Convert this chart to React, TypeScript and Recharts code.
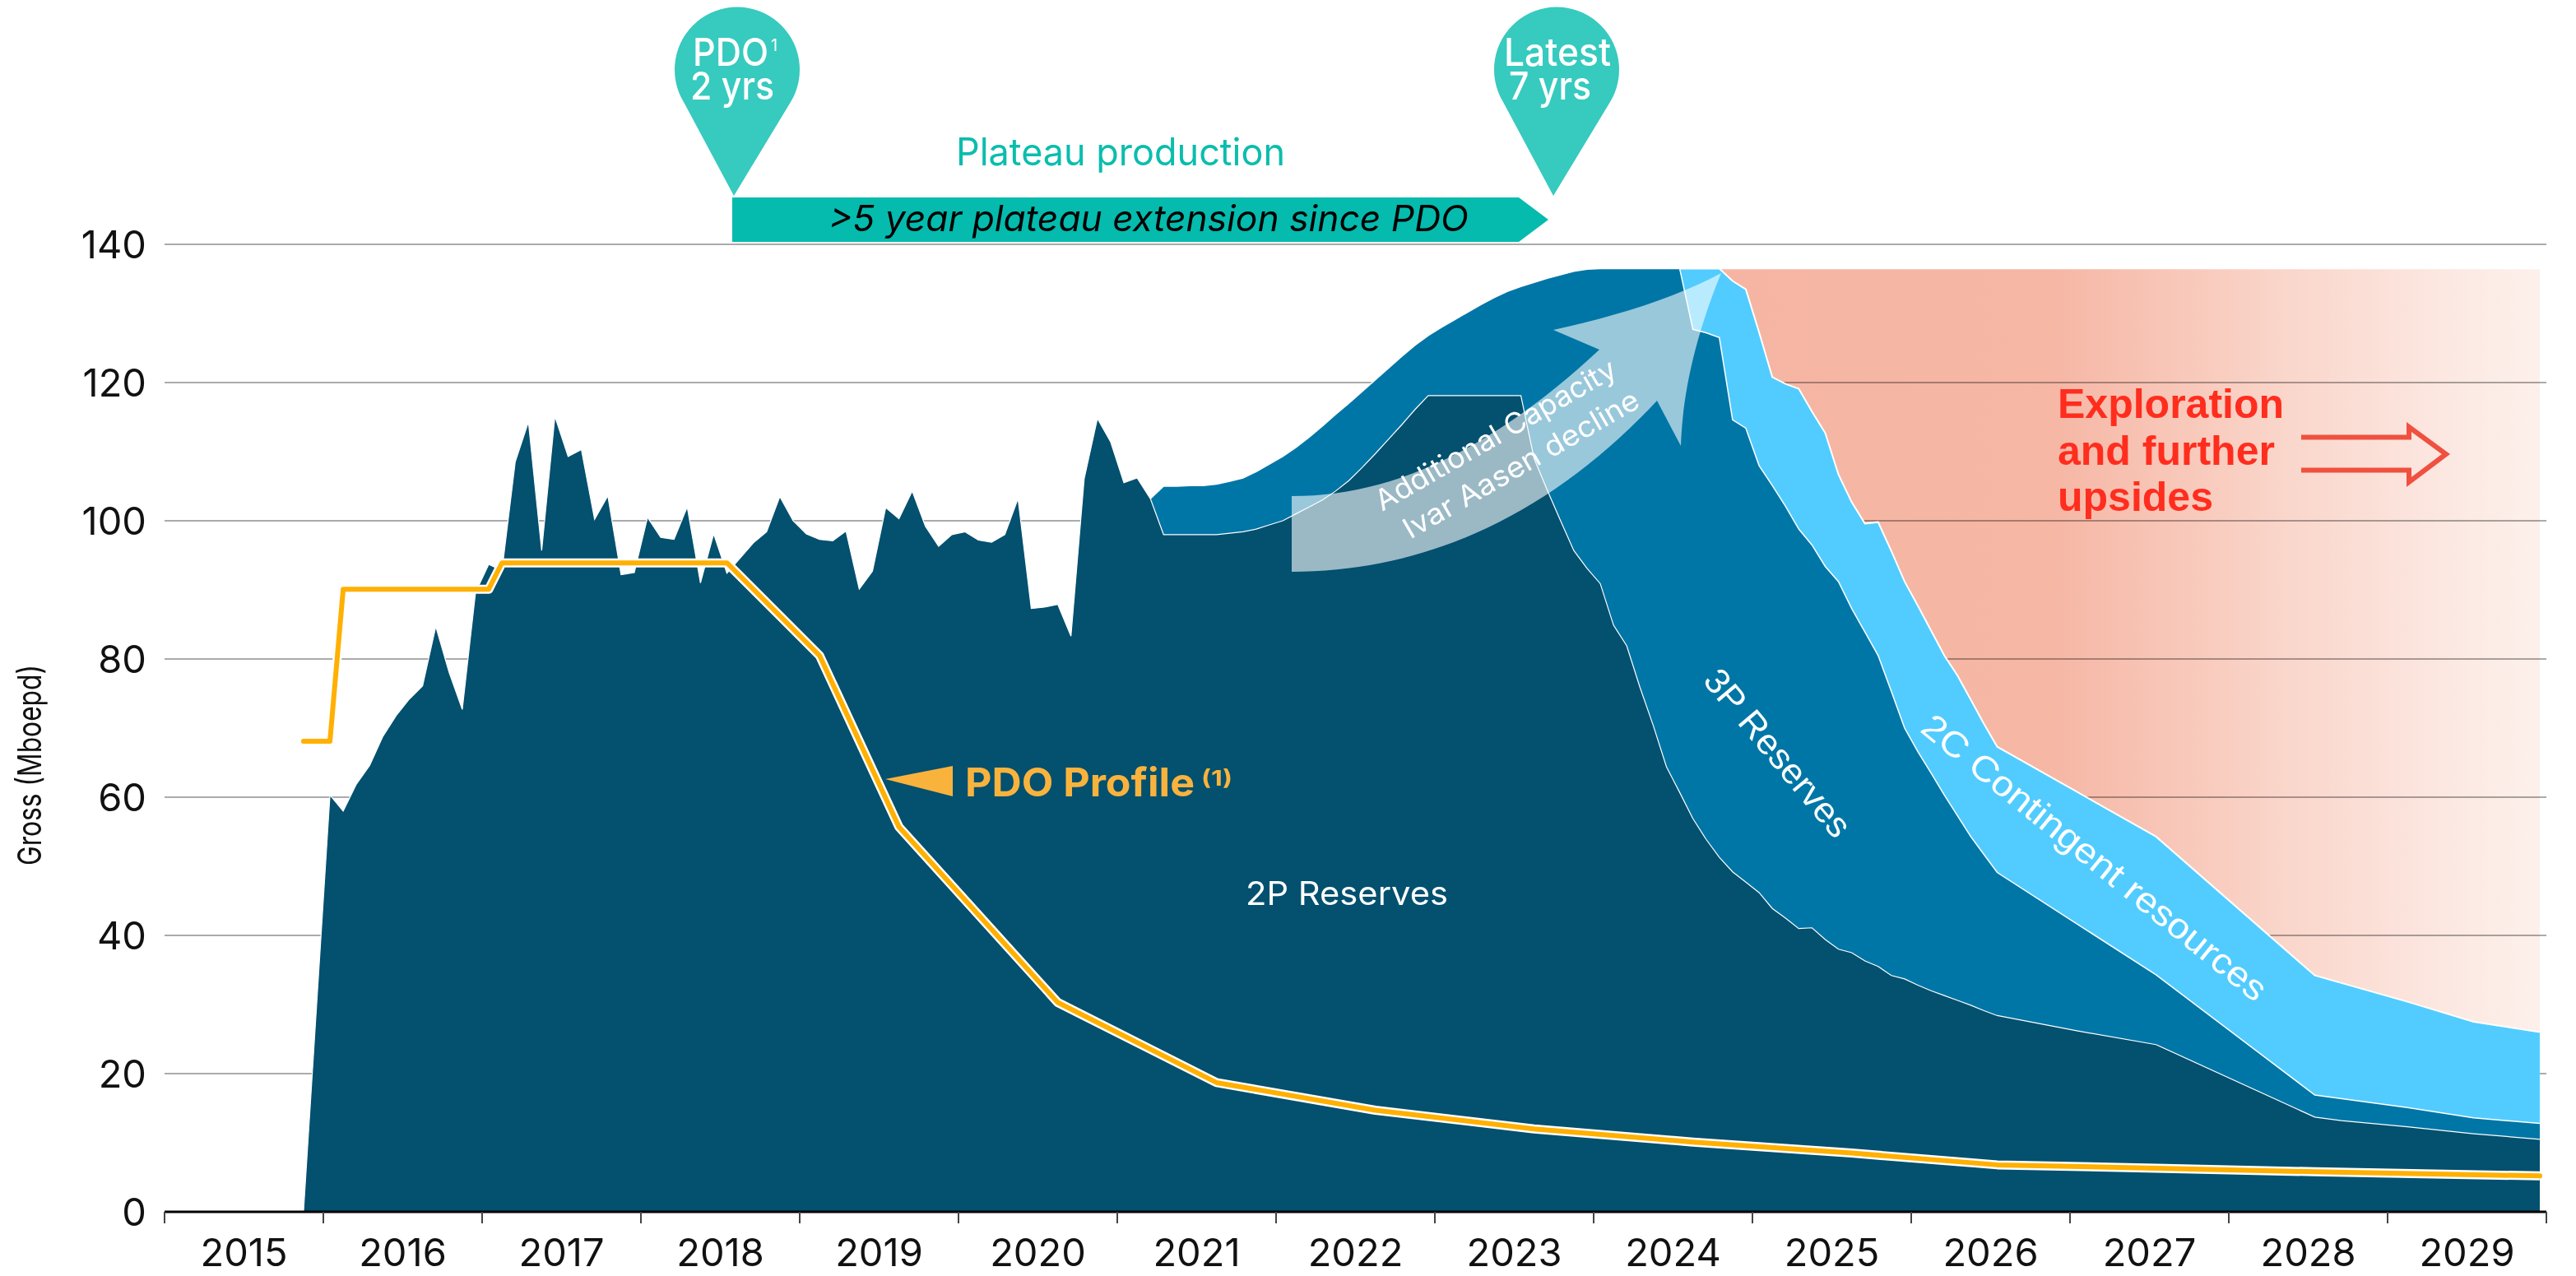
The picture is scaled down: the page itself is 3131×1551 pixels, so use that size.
import React from 'react';
import { ComposedChart, Area, Line, XAxis, YAxis, CartesianGrid } from 'recharts';

const yearTicks = [2015, 2016, 2017, 2018, 2019, 2020, 2021, 2022, 2023, 2024, 2025, 2026, 2027, 2028, 2029, 2030];
const valueTicks = [0, 20, 40, 60, 80, 100, 120, 140];

const run = (first: number, last: number) => {
  const out: number[] = [];
  for (let m = first; m <= last; m++) out.push(m);
  return out;
};

// months counted from Jan 2015
const months2P = [10, ...run(12, 138), 144, 150, 162, 164, 169, 174, 179];
const values2P = [
  0,
  60.3, 58, 61.9, 64.6, 68.8, 71.8, 74.2, 76.1,
  84.7, 78.1, 72.7, 89.6, 93.7, 92.8, 108.5, 114.3, 95.7, 115.1,
  109.3, 110.3, 100.2, 103.6, 92.2, 92.5, 100.5, 97.6, 97.3, 102,
  91, 98.1, 92.4, 94.6, 96.8, 98.4, 103.5, 100, 98.1, 97.3,
  97.1, 98.5, 90.1, 92.7, 101.9, 100.3, 104.3, 99.2, 96.3, 98,
  98.4, 97.2, 96.9, 98, 103.2, 87.3, 87.5, 87.9, 83.3, 106.1,
  114.8, 111.4, 105.5, 106.2, 103.2, 98, 98, 98, 98, 98,
  98.2, 98.4, 98.8, 99.4, 100, 101, 102, 103, 104.3, 105.8,
  107.7, 109.7, 111.8, 113.9, 116.1, 118.1, 118.1, 118.1, 118.1, 118.1,
  118.1, 118.1, 118.1, 109, 104.4, 100, 95.7, 93.1, 90.9, 84.9,
  81.9, 75.9, 70.4, 64.4, 60.7, 56.9, 53.9, 51.3, 49.2, 47.7,
  46.2, 43.9, 42.5, 41, 41.1, 39.4, 38, 37.5, 36.3, 35.5,
  34.2, 33.7, 32.8, 32, 31.3, 30.6, 29.9, 29.1, 28.4,
  26.2, 24.2, 13.7, 13.2, 12.3, 11.3, 10.5,
];

const months3P = [...run(74, 138), 150, 162, 169, 174, 179];
const values3P = [
  103.2, 105, 105, 105.1, 105.1, 105.3,
  105.7, 106.2, 107.1, 108.2, 109.3, 110.6, 112.1, 113.7, 115.4, 117,
  118.7, 120.4, 122.1, 123.8, 125.4, 126.8, 128, 129.1, 130.2, 131.3,
  132.3, 133.2, 133.9, 134.5, 135.1, 135.6, 136.1, 136.4, 136.5, 136.5,
  136.5, 136.5, 136.5, 136.5, 136.5, 127.7, 127.2, 126.5, 114.6, 113.4,
  108, 105.1, 102.1, 98.8, 96.5, 93.4, 91.2, 87.3, 83.9, 80.5,
  75.3, 70, 66.6, 63.5, 60.3, 57.3, 54.3, 51.7, 49.1,
  34.3, 16.9, 15.1, 13.6, 12.8,
];

const months2C = [...run(114, 138), 150, 162, 169, 174, 179];
const values2C = [
  136.5, 136.5, 136.5, 136.5, 134.7, 133.5,
  127.3, 120.8, 119.8, 119.1, 115.8, 112.7, 106.7, 102.7, 99.6, 99.8,
  95.6, 91.2, 87.7, 84.1, 80.5, 77.6, 74.1, 70.6, 67.3,
  54.3, 34.2, 30.4, 27.5, 26,
];

const monthsUpside = [117, 179];
const valuesUpside = [136.4, 136.4];

const monthsPDO = [10, 12, 13, 24, 25, 42, 49, 55, 67, 79, 91, 103, 115, 127, 138, 150, 162, 179];
const valuesPDO = [68.1, 68.1, 90.1, 90.1, 93.9, 93.9, 80.5, 55.7, 30.3, 18.7, 14.7, 12, 10.1, 8.5, 6.8, 6.3, 5.8, 5.2];

const toRows = (months: number[], values: number[]) =>
  months.map((m, i) => ({ t: 2015 + (m + 0.5) / 12, v: values[i] }));

const rows2P = toRows(months2P, values2P);
const rows3P = toRows(months3P, values3P);
const rows2C = toRows(months2C, values2C);
const rowsUpside = toRows(monthsUpside, valuesUpside);
const rowsPDO = toRows(monthsPDO, valuesPDO);

const SANS = 'Inter, sans-serif';
const ARIAL = '"Liberation Sans", Arial, sans-serif';

const YearTick = (props: any) => {
  const { x, y, payload } = props;
  if (payload.value >= 2030) return null;
  return (
    <text x={x + 96.5} y={y + 50} textAnchor="middle" fontFamily={SANS} fontSize={47} fill="#111">
      {payload.value}
    </text>
  );
};

const ValueTick = (props: any) => {
  const { x, y, payload } = props;
  return (
    <text x={x + 2} y={y + 17} textAnchor="end" fontFamily={SANS} fontSize={47} fill="#111">
      {payload.value}
    </text>
  );
};

const PIN = 'M892,238 L831,124 A76,76 0 1 1 961,124 Z';

function Annotations() {
  return (
    <svg width={3131} height={1551} style={{ position: 'absolute', left: 0, top: 0, pointerEvents: 'none' }}>
      {/* pins */}
      <path d={PIN} fill="#37CABF" />
      <path d={PIN} fill="#37CABF" transform="translate(996,0)" />
      <text fontFamily={SANS} fontSize={47} fontWeight={500} fill="#fff">
        <tspan x={842} y={80} textLength={92} lengthAdjust="spacingAndGlyphs">PDO</tspan>
        <tspan x={839} y={121} textLength={102} lengthAdjust="spacingAndGlyphs">2 yrs</tspan>
      </text>
      <text x={937} y={62} fontFamily={SANS} fontSize={20} fill="#fff">1</text>
      <text fontFamily={SANS} fontSize={47} fontWeight={500} fill="#fff">
        <tspan x={1828} y={80} textLength={130} lengthAdjust="spacingAndGlyphs">Latest</tspan>
        <tspan x={1834} y={121} textLength={100} lengthAdjust="spacingAndGlyphs">7 yrs</tspan>
      </text>

      {/* plateau bar */}
      <text x={1162} y={201} fontFamily={SANS} fontSize={46} fill="#0BBDAD" textLength={400} lengthAdjust="spacingAndGlyphs">Plateau production</text>
      <path d="M890,240 L1846,240 L1882,267 L1846,294 L890,294 Z" fill="#04BBAE" />
      <text x={1007} y={281} fontFamily={SANS} fontStyle="italic" fontSize={44} fill="#000" textLength={778} lengthAdjust="spacingAndGlyphs">&gt;5 year plateau extension since PDO</text>

      {/* additional capacity arrow */}
      <path
        d="M1570,603 C1700,603 1820,540 1944,425 L1888,401 C1960,385 2030,365 2092,332 C2060,410 2045,480 2043,542 L2014,487 C1890,620 1740,695 1570,695 Z"
        fill="#fff"
        fillOpacity={0.6}
      />
      <text transform="translate(1680,622) rotate(-30)" fontFamily={SANS} fontSize={35} fill="#fff" textLength={332} lengthAdjust="spacingAndGlyphs">Additional Capacity</text>
      <text transform="translate(1714,656) rotate(-30)" fontFamily={SANS} fontSize={35} fill="#fff" textLength={325} lengthAdjust="spacingAndGlyphs">Ivar Aasen decline</text>

      {/* series names */}
      <text x={1514} y={1100} fontFamily={SANS} fontSize={40} fill="#fff" textLength={246} lengthAdjust="spacingAndGlyphs">2P Reserves</text>
      <text transform="translate(2161,915) rotate(50)" textAnchor="middle" dominantBaseline="central" fontFamily={ARIAL} fontSize={43} fill="#fff" textLength={252} lengthAdjust="spacingAndGlyphs">3P Reserves</text>
      <text transform="translate(2546,1042) rotate(39)" textAnchor="middle" dominantBaseline="central" fontFamily={ARIAL} fontSize={43} fill="#fff" textLength={526} lengthAdjust="spacingAndGlyphs">2C Contingent resources</text>

      {/* PDO profile */}
      <path d="M1076,947 L1158,931 L1158,968 Z" fill="#F9B33D" />
      <text x={1173} y={968} fontFamily={SANS} fontWeight={700} fontSize={48} fill="#F9B33D" textLength={279} lengthAdjust="spacingAndGlyphs">PDO Profile</text>
      <text x={1460} y={955} fontFamily={SANS} fontWeight={700} fontSize={26} fill="#F9B33D" textLength={38} lengthAdjust="spacingAndGlyphs">(1)</text>

      {/* exploration */}
      <text fontFamily={ARIAL} fontWeight={700} fontSize={50} fill="#FF2D1E">
        <tspan x={2501} y={508}>Exploration</tspan>
        <tspan x={2501} y={565}>and further</tspan>
        <tspan x={2501} y={621}>upsides</tspan>
      </text>
      <path d="M2797,531.5 L2928,531.5 L2928,519 L2973,552 L2928,586 L2928,571.5 L2797,571.5" fill="none" stroke="#F0503F" strokeWidth={6} />

      {/* axis title */}
      <text transform="translate(50,930) rotate(-90)" textAnchor="middle" fontFamily={SANS} fontSize={40} fill="#111" textLength={244} lengthAdjust="spacingAndGlyphs">Gross (Mboepd)</text>
    </svg>
  );
}

export default function App() {
  return (
    <div style={{ position: 'absolute', left: 0, top: 0, width: 3131, height: 1551, background: '#fff', overflow: 'hidden' }}>
      <style>{'.upside-area .recharts-area-area{mix-blend-mode:multiply}'}</style>
      <ComposedChart width={3131} height={1551} margin={{ top: 297, right: 36, bottom: 0, left: 0 }}>
        <defs>
          <linearGradient id="upsideFade" x1="0" y1="0" x2="1" y2="0">
            <stop offset="0" stopColor="#F6B5A3" />
            <stop offset="0.41" stopColor="#F6B7A5" />
            <stop offset="0.7" stopColor="#FAD7CC" />
            <stop offset="0.9" stopColor="#FCE9E3" />
            <stop offset="1" stopColor="#FDF0EB" />
          </linearGradient>
        </defs>
        <CartesianGrid horizontal vertical={false} stroke="#ABABAB" strokeWidth={2} />
        <XAxis
          type="number"
          dataKey="t"
          domain={[2015, 2030]}
          ticks={yearTicks}
          interval={0}
          height={78}
          tickSize={14}
          tick={<YearTick />}
          tickLine={{ stroke: '#444', strokeWidth: 2 }}
          axisLine={{ stroke: '#000', strokeWidth: 3 }}
        />
        <YAxis
          type="number"
          domain={[0, 140]}
          ticks={valueTicks}
          interval={0}
          width={200}
          tickSize={22}
          tickLine={false}
          axisLine={false}
          tick={<ValueTick />}
        />
        <Area className="upside-area" data={rowsUpside} dataKey="v" type="linear" fill="url(#upsideFade)" fillOpacity={1} stroke="none" isAnimationActive={false} dot={false} activeDot={false} />
        <Area data={rows2C} dataKey="v" type="linear" fill="#52CCFF" fillOpacity={1} stroke="#fff" strokeWidth={2} isAnimationActive={false} dot={false} activeDot={false} />
        <Area data={rows3P} dataKey="v" type="linear" fill="#0076A6" fillOpacity={1} stroke="#fff" strokeWidth={1.5} isAnimationActive={false} dot={false} activeDot={false} />
        <Area data={rows2P} dataKey="v" type="linear" fill="#03506F" fillOpacity={1} stroke="#fff" strokeWidth={1.2} isAnimationActive={false} dot={false} activeDot={false} />
        <Line data={rowsPDO} dataKey="v" type="linear" stroke="#fff" strokeWidth={11} strokeLinejoin="round" isAnimationActive={false} dot={false} activeDot={false} legendType="none" />
        <Line data={rowsPDO} dataKey="v" type="linear" stroke="#FFB000" strokeWidth={6} strokeLinecap="round" strokeLinejoin="round" isAnimationActive={false} dot={false} activeDot={false} />
      </ComposedChart>
      <Annotations />
    </div>
  );
}
